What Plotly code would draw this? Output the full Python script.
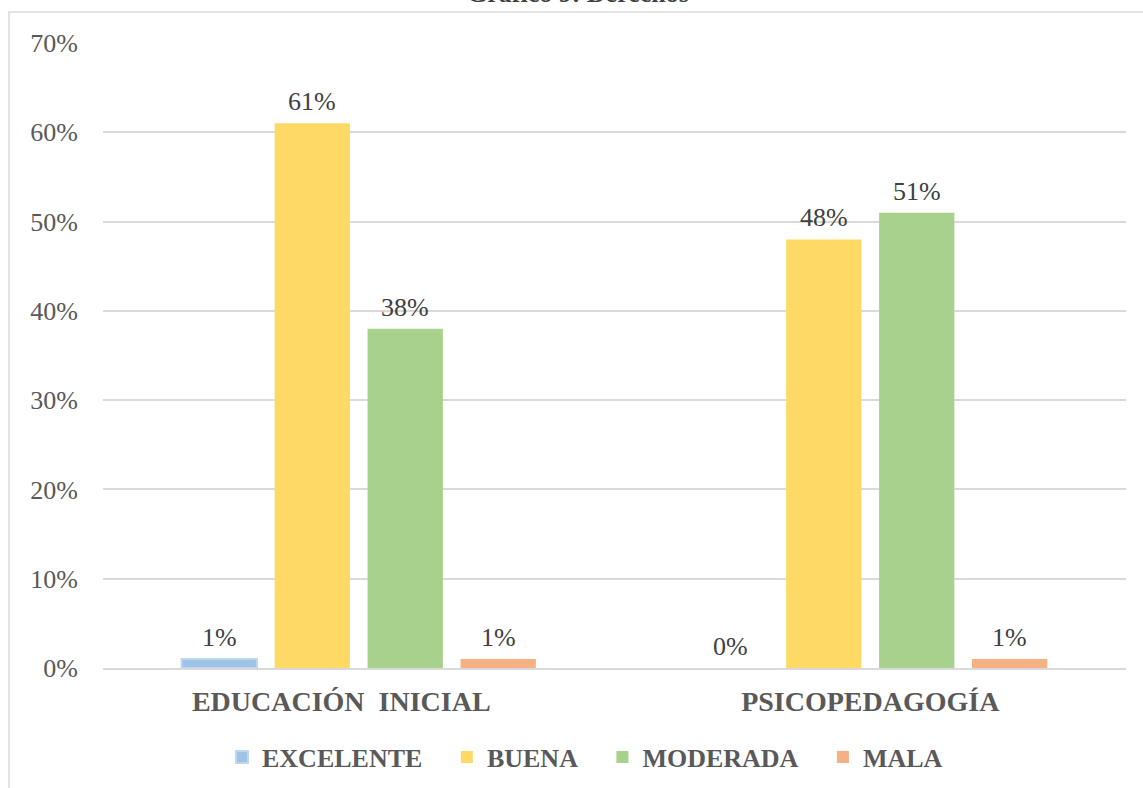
import plotly.graph_objects as go

categories = ["EDUCACIÓN  INICIAL", "PSICOPEDAGOGÍA"]
series_names = ["EXCELENTE", "BUENA", "MODERADA", "MALA"]
excelente = [1, 0]
buena = [61, 48]
moderada = [38, 51]
mala = [1, 1]
y_ticks = [0, 10, 20, 30, 40, 50, 60, 70]
y_tick_labels = ["0%", "10%", "20%", "30%", "40%", "50%", "60%", "70%"]
title_text = "Gráfico 9: Derechos"

series_values = [excelente, buena, moderada, mala]
colors = ["#9DC3E6", "#FFD966", "#A9D18E", "#F4B183"]
line_colors = ["#BDD7EE", "#FFD966", "#A9D18E", "#F4B183"]

W, H = 1143, 788
ML, MR, MT, MB = 103, 17, 43, 120
plot_w = W - ML - MR
plot_h = H - MT - MB
SERIF = "Liberation Serif"
NB = "\u00a0"

fig = go.Figure()
for i, (name, vals, c, lc) in enumerate(zip(series_names, series_values, colors, line_colors)):
    widths = [2 if (i == 0 and v > 0) else 0 for v in vals]
    legend_name = name + (NB * 3 if i < len(series_names) - 1 else "")
    fig.add_trace(go.Bar(
        name=legend_name, x=categories, y=vals,
        marker=dict(color=c, line=dict(color=lc, width=widths)),
        hoverinfo="skip",
    ))

# data labels
slot_px = 93
for i, vals in enumerate(series_values):
    for cat, v in zip(categories, vals):
        fig.add_annotation(
            x=cat, y=v, xref="x", yref="y", text=f"{v}%",
            showarrow=False, yanchor="bottom", yshift=5,
            xshift=(i - 1.5) * slot_px,
            font=dict(family=SERIF, size=26, color="#404040"),
        )

# title (cropped at top, as in the reference)
fig.add_annotation(
    text="<b>" + title_text + "</b>", xref="paper", yref="paper",
    x=(578 - ML) / plot_w, y=1 + (MT - 10) / plot_h,
    yanchor="bottom", xanchor="center", showarrow=False,
    font=dict(family=SERIF, size=26, color="#404040"),
)

# chart border
fig.add_shape(
    type="rect", xref="paper", yref="paper",
    x0=(9 - ML) / plot_w, x1=1.2, y0=-0.5, y1=(H - MB - 12) / plot_h,
    line=dict(color="#D9D9D9", width=1.5), layer="below",
)

x_tick_text = ["EDUCACIÓN" + NB * 2 + "INICIAL" + NB * 5, "PSICOPEDAGOGÍA"]

fig.update_layout(
    width=W, height=H,
    margin=dict(l=ML, r=MR, t=MT, b=MB, autoexpand=False),
    paper_bgcolor="white", plot_bgcolor="white",
    barmode="group", bargap=0.273, bargroupgap=0.19,
    font=dict(family=SERIF, size=26, color="#595959"),
    showlegend=True,
    legend=dict(
        orientation="h", x=(585 - ML) / plot_w, xanchor="center",
        y=-(757 - (H - MB)) / plot_h, yanchor="middle",
        font=dict(family=SERIF, size=26, color="#595959", weight="bold"),
        itemwidth=30, traceorder="normal",
    ),
    yaxis=dict(
        range=[0, 70], tickmode="array", tickvals=y_ticks, ticktext=y_tick_labels,
        showgrid=True, gridcolor="#D9D9D9", gridwidth=1.5,
        zeroline=False, showline=False, ticks="",
        ticklabelstandoff=24, automargin=False,
        tickfont=dict(family=SERIF, size=26, color="#595959"),
    ),
    xaxis=dict(
        tickmode="array", tickvals=categories, ticktext=x_tick_text,
        showline=True, linecolor="#D9D9D9", linewidth=1.5, ticks="",
        ticklabelstandoff=8, automargin=False,
        tickfont=dict(family=SERIF, size=28, color="#595959", weight="bold"),
    ),
)

fig.write_html(
    "out.html",
    config={"displayModeBar": False},
    post_script="document.body.style.margin='0';document.body.style.overflow='hidden';",
)
